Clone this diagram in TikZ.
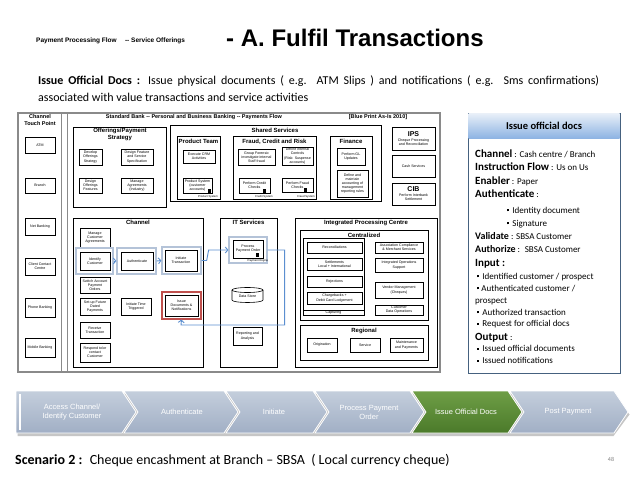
\documentclass[tikz,border=0pt]{standalone}
\usepackage{fontspec}
\setmainfont{Carlito}
\newfontfamily\arial{Liberation Sans}
\usetikzlibrary{arrows.meta}
\definecolor{hl}{HTML}{B4C3D8}
\definecolor{flow}{HTML}{5B8FD0}
\definecolor{redb}{HTML}{C0504D}
\definecolor{frm}{HTML}{8A8A8A}
\definecolor{pnl}{HTML}{45617F}
\definecolor{hdrtop}{HTML}{E8EFF8}
\definecolor{hdrbot}{HTML}{8EB4E3}
\definecolor{chtop}{HTML}{C4CEDC}
\definecolor{chbot}{HTML}{A1AFC5}
\definecolor{grtop}{HTML}{6E9E46}
\definecolor{grbot}{HTML}{4B7A2A}
\newcommand\tf{\arial\fontsize{3.6}{4.2}\selectfont}
\newcommand\hf{\arial\bfseries\fontsize{5.5}{6.3}\selectfont}
\newcommand\tlf{\arial\bfseries\fontsize{6}{7}\selectfont}
\newcommand\pbf{\fontsize{11}{13}\selectfont\bfseries}
\newcommand\pvf{\fontsize{9}{11}\selectfont\mdseries}
\newcommand\bul{\rule[1.6pt]{2.2pt}{2.2pt}}
\tikzset{
 bx/.style={draw, line width=0.6pt, fill=white, align=center, font=\tf, inner sep=0pt},
 grp/.style={draw, line width=0.7pt, inner sep=0pt},
 hlb/.style={draw=hl, line width=1.3pt, inner sep=0pt},
 rdb/.style={draw=redb, line width=1.1pt, inner sep=0pt},
 ttl/.style={font=\tlf, align=center, inner sep=0pt},
 hdr/.style={font=\hf, align=center, inner sep=0pt},
 sys/.style={fill=black, minimum width=3, minimum height=4.5, inner sep=0pt},
 sysl/.style={font=\arial\fontsize{2.8}{3}\selectfont, inner sep=0pt},
 fl/.style={draw=flow, line width=0.9pt, -{Straight Barb[length=2.5pt,width=6pt]}},
 pt/.style={anchor=base west, inner sep=0pt},
 chl/.style={text=white, font=\arial\fontsize{7.5}{9}\selectfont, align=center, inner sep=0pt},
}
\newcommand\mybx[7][bx]{\node[#1, minimum width={#5-#3}, minimum height={#6-#4}] (#2) at ({(#3+#5)/2},{(#4+#6)/2}) {#7};}
\begin{document}
\begin{tikzpicture}[x=1pt,y=-1pt]
\useasboundingbox (0,0) rectangle (638,479);
\fill[white] (0,0) rectangle (638,479);
% header
\node[anchor=base west, inner sep=0, font=\arial\bfseries\fontsize{6.5}{7}\selectfont] (sub) at (36,42) {Payment Processing Flow \quad -- Service Offerings};
\node[anchor=base west, inner sep=0, font=\arial\bfseries\fontsize{24}{26}\selectfont] (ttl) at (226,46) {- A. Fulfil Transactions};
\node[anchor=base west, inner sep=0, font=\fontsize{12}{14}\selectfont] (d1) at (38,84) {\makebox[561pt][s]{\textbf{Issue Official Docs :} Issue physical documents ( e.g. ATM Slips ) and notifications ( e.g. Sms confirmations)}};
\node[anchor=base west, inner sep=0, font=\fontsize{12}{14}\selectfont] (d2) at (38,101) {associated with value transactions and service activities};
% frame
\mybx[draw=frm, line width=1.6pt, inner sep=0pt]{frame}{18}{113}{440}{372}{}
\draw[frm, line width=1pt] (61.5,113) -- (61.5,372);
\draw[frm, line width=1pt] (67,113) -- (67,372);
\node[hdr] (cth) at (40,120) {Channel\\Touch Point};
\node[hdr] (sbh) at (194,117) {Standard Bank -- Personal and Business Banking -- Payments Flow};
\node[hdr] (bph) at (378,117) {[Blue Print As-Is 2010]};
% touch points
\mybx{atm}{25}{137}{55}{153}{ATM}
\mybx{br}{25}{178}{55}{193}{Branch}
\mybx{nb}{25}{218}{55}{235}{Net Banking}
\mybx{ccc}{25}{258}{55}{275}{Client Contact\\Centre}
\mybx{pb}{25}{298}{55}{317}{Phone Banking}
\mybx{mb}{25}{338}{55}{357}{Mobile Banking}
% offerings
\mybx[grp]{off}{73}{127}{166}{207}{}
\node[ttl] (offt) at (120,134) {Offerings/Payment\\Strategy};
\mybx{o1}{79}{149}{102}{165}{Develop\\Offerings\\Strategy}
\mybx{o2}{121}{149}{153}{165}{Design Feature\\and Service\\Specification}
\mybx{o3}{79}{178}{102}{193}{Design\\Offerings\\Features}
\mybx{o4}{121}{178}{153}{193}{Manage\\Agreements\\(Industry)}
% shared services
\mybx[grp]{ss}{170}{125}{381}{201}{}
\node[ttl] (sst) at (275,130) {Shared Services};
\mybx[grp]{pt}{177}{136}{220}{199}{}
\node[ttl] (ptt) at (198.5,141.5) {Product Team};
\mybx{p1}{183}{150}{215}{163}{Execute CRM\\Activities}
\mybx{p2}{183}{178}{212}{193}{Product System\\(customer\\accounts)}
\node[sys] (p2s) at (209,191.5) {};
\node[sysl] (p2l) at (208,196.5) {Product System};
\mybx[grp]{fr}{233}{136}{316}{199}{}
\node[ttl] (frt) at (274.5,141.5) {Fraud, Credit and Risk};
\mybx{f1}{238}{149}{275}{165}{Group Forensic\\investigate internal\\Staff fraud}
\mybx{f2}{282}{147}{313}{165}{Define internal\\Controls\\(Risk: Suspense\\accounts)}
\mybx{f3}{239}{178}{270}{193}{Perform Credit\\Checks}
\node[sys] (f3s) at (264,191.5) {};
\node[sysl] (f3l) at (264,197) {Credit System};
\mybx{f4}{282}{178}{313}{192}{Perform Fraud\\Checks}
\node[sys] (f4s) at (305,190.5) {};
\node[sysl] (f4l) at (306,196.5) {Fraud System};
\mybx[grp]{fin}{330}{136}{372}{199}{}
\node[ttl] (fint) at (351,141.5) {Finance};
\mybx{n1}{337}{148}{365}{165}{Perform GL\\Updates}
\mybx{n2}{337}{170}{368}{197}{Define and\\maintain\\accounting of\\management\\reporting rules}
% right column
\mybx{ips}{392}{127}{435}{150}{{\arial\bfseries\fontsize{7}{8}\selectfont IPS}\\[0.5pt]Cheque Processing\\and Reconciliation}
\mybx{cash}{392}{155}{435}{177}{Cash Services}
\mybx{cib}{392}{183}{435}{205}{{\arial\bfseries\fontsize{7}{8}\selectfont CIB}\\[0.5pt]Perform Interbank\\Settlement}
% channel
\mybx[grp]{ch}{73}{218}{203}{367}{}
\node[ttl] (cht) at (138,222.5) {Channel};
\mybx{c1}{80}{228}{110}{247}{Manage\\Customer\\Agreements}
\mybx[hlb]{c2o}{76}{248}{113}{274}{}
\mybx{c2}{80}{252}{110}{270}{Identify\\Customer}
\mybx[hlb]{c3o}{117}{248}{156}{274}{}
\mybx{c3}{121}{252}{153}{270}{Authenticate}
\mybx[hlb]{c4o}{162}{247}{201}{274}{}
\mybx{c4}{165}{250}{197}{271}{Initiate\\Transaction}
\mybx{c5}{80}{277}{110}{293}{Switch Account\\Payment\\Orders}
\mybx{c6}{80}{298}{110}{315}{Set-up Future\\Dated\\Payments}
\mybx{c7}{121}{298}{151}{315}{Initiate Time\\Triggered}
\mybx[rdb]{c8o}{162}{292}{201}{319}{}
\mybx{c8}{165}{295}{198}{316}{Issue\\Documents \&\\Notifications}
\mybx{c9}{80}{322}{110}{338}{Receive\\Transaction}
\mybx{c10}{80}{343}{110}{362}{Respond to/or\\contact\\Customer}
% IT services
\mybx[grp]{it}{220}{218}{277}{367}{}
\node[ttl] (itt) at (248.5,222.5) {IT Services};
\mybx[hlb]{ppoo}{229}{237}{267}{263}{}
\mybx{ppo}{233}{240}{263}{258}{Process\\Payment Order}
\node[sys] (ppos) at (257,255) {};
\node[sysl] (ppol) at (258,261) {Payment Engine};
\fill[white] (232,290) rectangle (263,300);
\draw[line width=0.6pt] (232,290) -- (232,300) .. controls (232,303.3) and (263,303.3) .. (263,300) -- (263,290);
\draw[line width=0.6pt] (247.5,290) ellipse [x radius=15.5, y radius=2.5];
\node[font=\tf, inner sep=0] (ds) at (247.5,296) {Data Store};
\mybx{rep}{233}{327}{262}{345}{Reporting and\\Analysis}
% IPC
\mybx[grp]{ipc}{295}{218}{437}{367}{}
\node[ttl] (ipct) at (366,222.5) {Integrated Processing Centre};
\mybx[grp]{cen}{300}{230}{428}{320}{}
\node[ttl] (cent) at (364,235) {Centralized};
\mybx[grp]{cap}{303}{238}{364}{315}{}
\draw[line width=0.6pt] (303,310) -- (364,310);
\node[font=\tf, inner sep=0] (capt) at (333.5,312.6) {Capturing};
\mybx{i1}{307}{242}{362}{253}{Reconciliations}
\mybx{i2}{307}{258}{362}{270}{Settlements\\Local + International}
\mybx{i3}{307}{276}{362}{287}{Rejections}
\mybx{i4}{307}{292}{362}{304}{Chargebacks +\\Debit Card Lodgement}
\mybx{j1}{375}{242}{423}{253}{Association Compliance\\\& Merchant Services}
\mybx{j2}{375}{258}{423}{272}{Integrated Operations\\Support}
\mybx{j3}{375}{282}{423}{298}{Vendor Management\\(Cheques)}
\mybx{j4}{375}{305}{423}{315}{Customer\\Data Operations}
\mybx[grp]{reg}{300}{325}{428}{360}{}
\node[ttl] (regt) at (364,331) {Regional};
\mybx{r1}{307}{338}{337}{352}{Origination}
\mybx{r2}{350}{338}{380}{352}{Service}
\mybx{r3}{390}{338}{423}{352}{Maintenance\\and Payments}
% flows
\draw[fl] (c2o.east) -- (c3o.west);
\draw[fl] (c3o.east) -- (c4o.west);
\draw[fl] (c4o.east) -- ++(5,0) -- ++(2,-10.5) -- (ppoo.west);
\coordinate (bend) at (181,325);
\draw[fl] (ppoo.east) -- ++(17,0) |- (bend) -- (c8o.south);
% right panel
\mybx[draw=pnl, line width=1pt, fill=white, inner sep=0pt]{panel}{468}{113}{620}{373}{}
\shade[top color=hdrtop, bottom color=hdrbot] (468.5,113.5) rectangle (619.5,138);
\node[font=\fontsize{10.5}{12}\selectfont\bfseries, inner sep=0] (pt0) at (544,125.5) {Issue official docs};
\node[pt] (pt1) at (475,157) {\pbf Channel\pvf{} : Cash centre / Branch};
\node[pt] (pt2) at (475,170) {\pbf Instruction Flow\pvf{} : Us on Us};
\node[pt] (pt3) at (475,184) {\pbf Enabler\pvf{} : Paper};
\node[pt] (pt4) at (475,197) {\pbf Authenticate\pvf{} :};
\node[pt] (pt5) at (507,213) {\pvf\bul\hspace{3pt}Identity document};
\node[pt] (pt6) at (507,226) {\pvf\bul\hspace{3pt}Signature};
\node[pt] (pt7) at (475,239.5) {\fontsize{10}{12}\selectfont\bfseries Validate\pvf{} : SBSA Customer};
\node[pt] (pt8) at (475,252) {\fontsize{10}{12}\selectfont\bfseries Authorize\pvf{} : \ SBSA Customer};
\node[pt] (pt9) at (475,266.5) {\pbf Input :};
\node[pt] (pt10) at (477,279) {\pvf\bul\hspace{3pt}Identified customer / prospect};
\node[pt] (pt11) at (477,291) {\pvf\bul\hspace{2pt}Authenticated customer /};
\node[pt] (pt12) at (475,303) {\pvf prospect};
\node[pt] (pt13) at (477,315) {\pvf\bul\hspace{3pt}Authorized transaction};
\node[pt] (pt14) at (477,326.5) {\pvf\bul\hspace{3pt}Request for official docs};
\node[pt] (pt15) at (475,340.5) {\pbf Output\pvf{} :};
\node[pt] (pt16) at (477,351.5) {\pvf\bul\hspace{3pt}Issued official documents};
\node[pt] (pt17) at (477,363.5) {\pvf\bul\hspace{3pt}Issued notifications};
% chevron bar shadow
\fill[gray!45] (17.5,393.5) -- (613.5,393.5) -- (629.5,414.5) -- (613.5,436) -- (17.5,436) -- cycle;
% chevrons
\shadedraw[top color=chtop, bottom color=chbot, draw=white, line width=0.8pt] (16,391) -- (122,391) -- (136,412) -- (122,433) -- (16,433) -- cycle;
\shadedraw[top color=chtop, bottom color=chbot, draw=white, line width=0.8pt] (124,391) -- (224,391) -- (238,412) -- (224,433) -- (124,433) -- (138,412) -- cycle;
\shadedraw[top color=chtop, bottom color=chbot, draw=white, line width=0.8pt] (226,391) -- (313,391) -- (327,412) -- (313,433) -- (226,433) -- (240,412) -- cycle;
\shadedraw[top color=chtop, bottom color=chbot, draw=white, line width=0.8pt] (315,391) -- (410,391) -- (424,412) -- (410,433) -- (315,433) -- (329,412) -- cycle;
\shadedraw[top color=grtop, bottom color=grbot, draw=white, line width=0.8pt] (412,391) -- (508,391) -- (522,412) -- (508,433) -- (412,433) -- (426,412) -- cycle;
\shadedraw[top color=chtop, bottom color=chbot, draw=white, line width=0.8pt] (510,391) -- (614,391) -- (628,412) -- (614,433) -- (510,433) -- (524,412) -- cycle;
\draw[white, line width=1.2pt] (20,394) -- (20,430);
\node[chl] (s1) at (72,412) {Access Channel/\\Identify Customer};
\node[chl] (s2) at (182,412) {Authenticate};
\node[chl] (s3) at (274,412) {Initiate};
\node[chl] (s4) at (369,412) {Process Payment\\Order};
\node[chl] (s5) at (466,412) {Issue Official Docs};
\node[chl] (s6) at (568,412) {Post Payment};
% footer
\node[anchor=base west, inner sep=0, font=\fontsize{14}{17}\selectfont] (scn) at (15,464) {\textbf{Scenario 2 :} \ Cheque encashment at Branch -- SBSA \ ( Local currency cheque)};
\node[inner sep=0, text=gray, font=\fontsize{6}{7}\selectfont] (pg) at (611,459) {48};
\end{tikzpicture}
\end{document}
